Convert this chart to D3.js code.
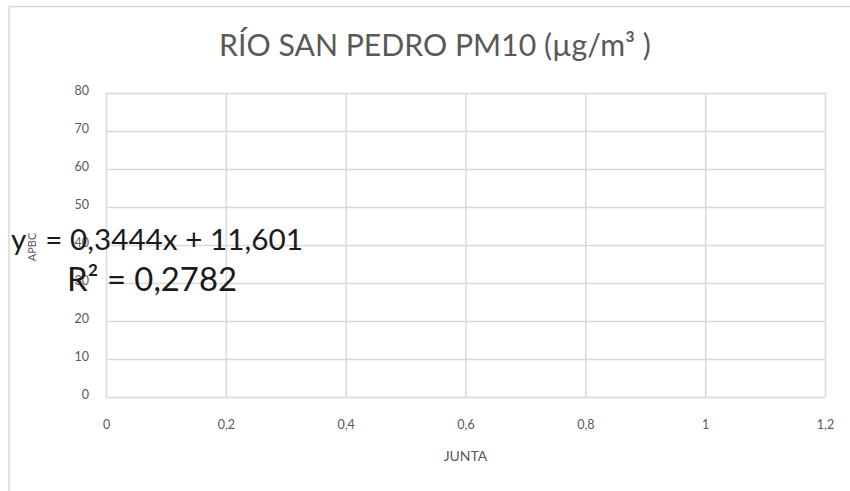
<!DOCTYPE html>
<html>
<head>
<meta charset="utf-8">
<script src="https://cdn.jsdelivr.net/npm/d3@7"></script>
<style>
  body { margin: 0; background: #fff; }
  text { font-family: Lato, "Open Sans", sans-serif; }
</style>
</head>
<body>
<div id="chart"></div>
<script>
const title = 'RÍO SAN PEDRO PM10 (µg/m³ )';
const xTicks = [0, 0.2, 0.4, 0.6, 0.8, 1, 1.2];
const yTicks = [0, 10, 20, 30, 40, 50, 60, 70, 80];
const xLabel = 'JUNTA';
const yLabel = 'APBC';
const trendLines = ['y = 0,3444x + 11,601', 'R² = 0,2782'];

const w = 850;
const h = 491;
const plot = {left: 106, right: 825, top: 93, bottom: 397};

// shrink/grow a text's font so it spans the given width
function fitWidth(sel, width) {
  const size = parseFloat(sel.style('font-size'));
  const len = sel.node().getComputedTextLength();
  sel.style('font-size', (size * width / len) + 'px');
}

window.onload = () => {
  const svg = d3.select('#chart')
    .append('svg')
    .attr('width', w)
    .attr('height', h);

  // chart frame
  svg.append('path')
     .attr('d', `M9,${h} V6.5 H${w}`)
     .attr('fill', 'none')
     .attr('stroke', '#d9d9d9')
     .attr('stroke-width', 1.5);

  const x = d3.scaleLinear().domain([0, 1.2]).range([plot.left, plot.right]);
  const y = d3.scaleLinear().domain([0, 80]).range([plot.bottom, plot.top]);
  const fmt = d => d3.format('~g')(d).replace('.', ',');

  const xAxis = svg.append('g')
    .attr('transform', `translate(0,${plot.bottom})`)
    .call(d3.axisBottom(x).tickValues(xTicks).tickSize(-(plot.bottom - plot.top)).tickPadding(23).tickFormat(fmt));
  const yAxis = svg.append('g')
    .attr('transform', `translate(${plot.left},0)`)
    .call(d3.axisLeft(y).tickValues(yTicks).tickSize(-(plot.right - plot.left)).tickPadding(17).tickFormat(fmt));

  [xAxis, yAxis].forEach(g => {
    g.select('.domain').remove();
    g.selectAll('line').attr('stroke', '#d9d9d9').attr('stroke-width', 1.5);
    g.selectAll('text').attr('fill', '#595959').style('font-size', '12.5px');
  });
  yAxis.selectAll('text').attr('dy', '0.1em');

  const t = svg.append('text')
     .attr('x', 435).attr('y', 56)
     .attr('text-anchor', 'middle')
     .attr('fill', '#595959')
     .style('font-size', '26px')
     .text(title);
  fitWidth(t, 432);

  svg.append('text')
     .attr('x', (plot.left + plot.right) / 2).attr('y', 461)
     .attr('text-anchor', 'middle')
     .attr('fill', '#595959')
     .style('font-size', '14px')
     .text(xLabel);

  svg.append('text')
     .attr('transform', `translate(36,${(plot.top + plot.bottom) / 2 + 2}) rotate(-90)`)
     .attr('text-anchor', 'middle')
     .attr('fill', '#595959')
     .style('font-size', '11px')
     .text(yLabel);

  // trendline equation label, wider gap after "y" like the reference
  const parts = trendLines[0].split(/(?<=^y )/);
  const eq1 = svg.append('text')
     .attr('x', 11).attr('y', 250)
     .attr('fill', '#1a1a1a')
     .style('white-space', 'pre')
     .style('font-size', '24px');
  eq1.append('tspan').text(parts[0]);
  eq1.append('tspan').attr('dx', 12).text(parts[1]);
  fitWidth(eq1, 280);

  const eq2 = svg.append('text')
     .attr('x', 67).attr('y', 291)
     .attr('fill', '#1a1a1a')
     .style('font-size', '24px')
     .text(trendLines[1]);
  fitWidth(eq2, 170);
};
</script>
</body>
</html>
